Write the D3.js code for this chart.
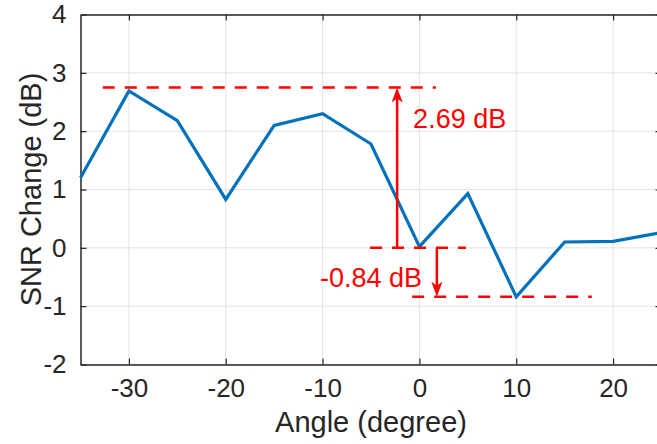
<!DOCTYPE html>
<html lang="en">
  <head>
    <meta charset="utf-8">
    <title>SNR change vs angle</title>
    <script src="https://cdn.jsdelivr.net/npm/d3@7"></script>
    <style>
      body { margin: 0; background: #fff; }
      text { font-family: "Liberation Sans", Arial, sans-serif; }
    </style>
  </head>
  <body>
    <script type="text/javascript">
      // data
      var angles = [-35, -30, -25, -20, -15, -10, -5, 0, 5, 10, 15, 20, 25];
      var snrChange = [1.2, 2.69, 2.18, 0.83, 2.1, 2.3, 1.78, 0.02, 0.93, -0.84, 0.1, 0.11, 0.26];
      var xTicks = [-30, -20, -10, 0, 10, 20];
      var yTicks = [-2, -1, 0, 1, 2, 3, 4];

      // annotation levels (data units)
      var peakLevel = 2.75, zeroLevel = 0, dipLevel = -0.84;

      var width = 657, height = 444;
      var svg = d3.select("body").append("svg")
          .attr("width", width)
          .attr("height", height);

      var x = d3.scaleLinear().domain([-35, 25]).range([80.5, 661.5]);
      var y = d3.scaleLinear().domain([-2, 4]).range([364.5, 14.5]);

      // plain hyphen minus like the original
      var fmt = d => String(d);

      // grid
      svg.append("g").selectAll("line").data(xTicks).enter().append("line")
          .attr("x1", d => x(d)).attr("x2", d => x(d))
          .attr("y1", y(4)).attr("y2", y(-2))
          .attr("stroke", "#e3e3e3").attr("stroke-width", 1);
      svg.append("g").selectAll("line").data(yTicks).enter().append("line")
          .attr("x1", x(-35)).attr("x2", x(25))
          .attr("y1", d => y(d)).attr("y2", d => y(d))
          .attr("stroke", "#e3e3e3").attr("stroke-width", 1);

      // axes (ticks pointing inward, box on all sides)
      var axisColor = "#262626";
      function styleAxis(g) {
        g.select(".domain").attr("stroke", axisColor).attr("stroke-width", 1.5);
        g.selectAll(".tick line").attr("stroke", axisColor).attr("stroke-width", 1.2);
        g.selectAll(".tick text").attr("fill", axisColor)
          .style("font-size", "26px");
      }
      svg.append("g").attr("transform", "translate(0," + y(-2) + ")")
          .call(d3.axisBottom(x).tickValues(xTicks).tickFormat(fmt).tickSizeInner(-6).tickSizeOuter(0).tickPadding(14))
          .call(styleAxis);
      svg.append("g").attr("transform", "translate(0," + y(4) + ")")
          .call(d3.axisTop(x).tickValues(xTicks).tickSizeInner(-6).tickSizeOuter(0).tickFormat(""))
          .call(styleAxis);
      svg.append("g").attr("transform", "translate(" + x(-35) + ",0)")
          .call(d3.axisLeft(y).tickValues(yTicks).tickFormat(fmt).tickSizeInner(-6).tickSizeOuter(0).tickPadding(14))
          .call(styleAxis);
      svg.append("g").attr("transform", "translate(" + x(25) + ",0)")
          .call(d3.axisRight(y).tickValues(yTicks).tickSizeInner(-6).tickSizeOuter(0).tickFormat(""))
          .call(styleAxis);

      // axis titles
      svg.append("text")
          .attr("x", x(-5)).attr("y", 432)
          .attr("text-anchor", "middle")
          .attr("fill", axisColor)
          .style("font-size", "29px")
          .text("Angle (degree)");
      svg.append("text")
          .attr("transform", "rotate(-90)")
          .attr("x", -y(1)).attr("y", 41)
          .attr("text-anchor", "middle")
          .attr("fill", axisColor)
          .style("font-size", "29px")
          .text("SNR Change (dB)");

      // data line
      var line = d3.line().x((d, i) => x(angles[i])).y(d => y(d));
      svg.append("path").datum(snrChange)
          .attr("d", line)
          .attr("fill", "none")
          .attr("stroke", "#0072BD")
          .attr("stroke-width", 3.2)
          .attr("stroke-linejoin", "miter");

      // red annotations
      var red = "#ff0000";
      function dashed(x1, x2, level) {
        svg.append("line")
          .attr("x1", x(x1)).attr("x2", x(x2))
          .attr("y1", y(level)).attr("y2", y(level))
          .attr("stroke", red).attr("stroke-width", 2.5)
          .attr("stroke-dasharray", "12,10");
      }
      dashed(-32.7, 1.7, peakLevel);
      dashed(-5.1, 4.8, zeroLevel);
      dashed(-0.75, 17.8, dipLevel);

      function arrow(xv, from, to) {
        var x0 = x(xv), y0 = y(from), y1 = y(to);
        var dir = y1 < y0 ? 1 : -1; // head points toward y1
        svg.append("line")
          .attr("x1", x0).attr("x2", x0)
          .attr("y1", y0).attr("y2", y1 + dir * 8)
          .attr("stroke", red).attr("stroke-width", 2.5);
        var hl = 15, hw = 5.5, notch = 4;
        svg.append("path")
          .attr("d", "M" + x0 + "," + y1 +
                     "L" + (x0 - hw) + "," + (y1 + dir * hl) +
                     "L" + x0 + "," + (y1 + dir * (hl - notch)) +
                     "L" + (x0 + hw) + "," + (y1 + dir * hl) + "Z")
          .attr("fill", red);
      }
      arrow(-2.3, zeroLevel, peakLevel);
      arrow(1.8, zeroLevel, dipLevel);

      svg.append("text")
          .attr("x", x(-0.65)).attr("y", y(2.05))
          .attr("fill", red)
          .style("font-size", "27px")
          .text("2.69 dB");
      svg.append("text")
          .attr("x", x(0.27)).attr("y", y(-0.67))
          .attr("text-anchor", "end")
          .attr("fill", red)
          .style("font-size", "27px")
          .text("-0.84 dB");
    </script>
  </body>
</html>
